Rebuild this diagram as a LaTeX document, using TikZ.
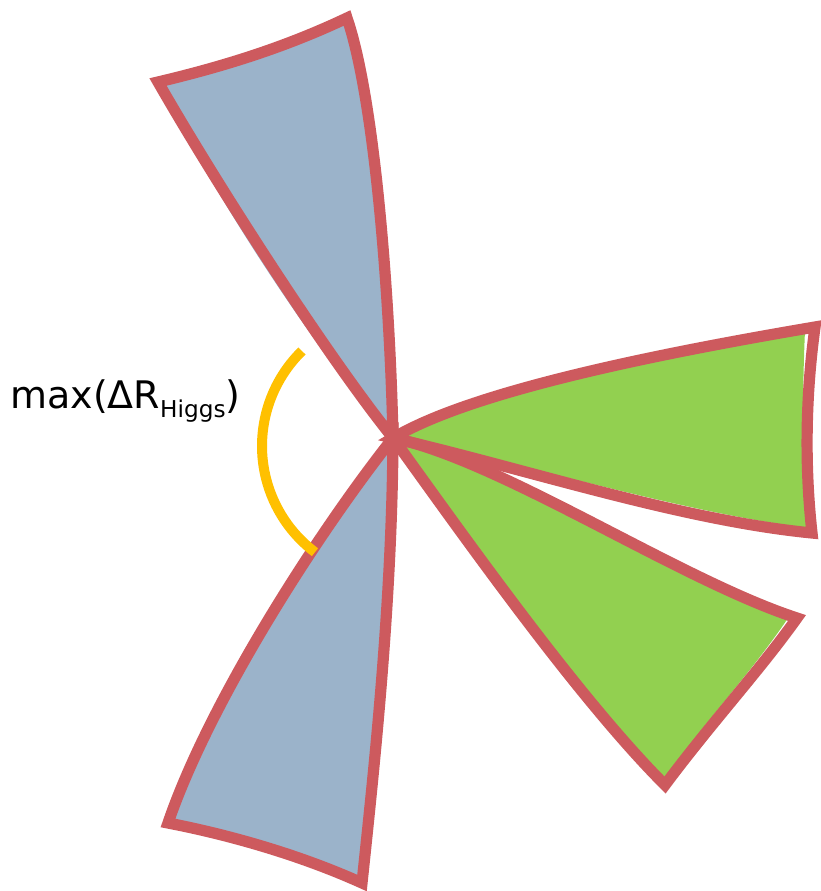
\documentclass[tikz,border=0pt]{standalone}
\usepackage{fontspec}
\setmainfont{DejaVu Sans}
\usepackage{tikz}

\definecolor{jetred}{HTML}{CD5A5E}
\definecolor{jetblue}{HTML}{9BB3CA}
\definecolor{jetgreen}{HTML}{92D050}
\definecolor{arcyellow}{HTML}{FFC000}

\begin{document}
\begin{tikzpicture}[x=0.025cm, y=-0.025cm,
    jetline/.style={draw=jetred, line width=0.28cm, line join=miter},
    bluejet/.style={fill=jetblue},
    greenjet/.style={fill=jetgreen},
    anglearc/.style={draw=arcyellow, line width=0.25cm}]
    \useasboundingbox (0,0) rectangle (820,891);
    \coordinate (c) at (393,438);
    \coordinate (ac) at (395,446);

    % Fills
    \fill[bluejet] (c) .. controls (325,365) and (212,195) .. (161,86)
        .. controls (230,68) and (290,48) .. (345,22)
        .. controls (370,100) and (383,300) .. (c) -- cycle;
    \fill[bluejet] (c) .. controls (318,535) and (212,700) .. (172,820)
        .. controls (230,833) and (300,852) .. (360,880)
        .. controls (386,770) and (393,600) .. (c) -- cycle;
    \fill[greenjet] (c) .. controls (470,385) and (650,350) .. (805,330)
        .. controls (802,400) and (802,470) .. (808,528)
        .. controls (680,512) and (530,464) .. (c) -- cycle;
    \fill[greenjet] (c) .. controls (500,455) and (680,572) .. (790,615)
        .. controls (755,668) and (708,718) .. (665,778)
        .. controls (582,700) and (474,550) .. (c) -- cycle;

    % Outlines
    \draw[jetline] (c) .. controls (330,360) and (220,190) .. (158,82)
        .. controls (230,65) and (290,45) .. (347,18)
        .. controls (375,100) and (390,300) .. (c) -- cycle;
    \draw[jetline] (c) .. controls (320,530) and (210,700) .. (168,823)
        .. controls (230,835) and (300,855) .. (362,883)
        .. controls (375,760) and (392,600) .. (c) -- cycle;
    \draw[jetline] (c) .. controls (470,392) and (650,355) .. (815,327)
        .. controls (805,400) and (805,470) .. (812,533)
        .. controls (680,520) and (530,470) .. (c) -- cycle;
    \draw[jetline] (c) .. controls (500,460) and (680,580) .. (797,618)
        .. controls (760,670) and (712,722) .. (665,785)
        .. controls (580,700) and (470,545) .. (c) -- cycle;

    % Angle
    \draw[anglearc] (ac) ++(225.6:133) arc[start angle=225.6, end angle=127, radius=133];
    \node (label) [anchor=base west, inner sep=0pt, font=\fontsize{27}{31}\selectfont]
        at (10,408) {max(ΔR\raisebox{-6.6pt}{\fontsize{16.5}{19}\selectfont Higgs})};
\end{tikzpicture}
\end{document}
